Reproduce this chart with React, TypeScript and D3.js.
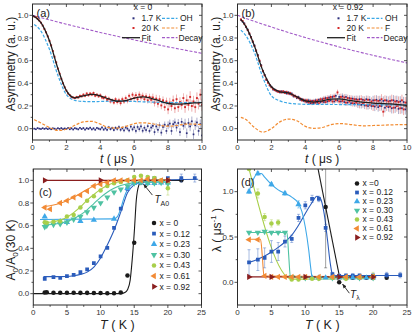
import { useEffect, useRef } from "react";
import * as d3 from "d3";

const FONT = "'Liberation Sans', Arial, Helvetica, sans-serif";

// ---------- panels (a) and (b): asymmetry vs time ----------
const tStep = 0.1;

// (a) x = 0, data from t = 0.1 us
const asym20A = [
  0.99, 0.985, 0.97, 0.955, 0.935, 0.91, 0.88, 0.85, 0.815, 0.775,
  0.735, 0.685, 0.635, 0.585, 0.53, 0.485, 0.44, 0.4, 0.365, 0.335,
  0.31, 0.295, 0.28, 0.275, 0.27, 0.28, 0.275, 0.29, 0.285, 0.3,
  0.29, 0.31, 0.295, 0.31, 0.3, 0.315, 0.29, 0.3, 0.285, 0.295,
  0.275, 0.27, 0.28, 0.255, 0.265, 0.24, 0.25, 0.23, 0.26, 0.235,
  0.25, 0.225, 0.26, 0.24, 0.27, 0.245, 0.29, 0.26, 0.3, 0.27,
  0.295, 0.26, 0.3, 0.275, 0.29, 0.26, 0.285, 0.25, 0.28, 0.255,
  0.275, 0.23, 0.265, 0.22, 0.26, 0.205, 0.25, 0.19, 0.24, 0.17,
  0.23, 0.2, 0.25, 0.18, 0.26, 0.19, 0.235, 0.21, 0.27, 0.19,
  0.25, 0.21, 0.28, 0.2, 0.24, 0.19, 0.27, 0.22, 0.3, 0.21,
];
const asym17A = [
  0.0, -0.005, 0.005, 0.0, -0.003, 0.004, -0.002, 0.003, -0.004, 0.002,
  -0.005, 0.003, 0.0, -0.006, 0.004, -0.002, 0.005, -0.004, 0.002, -0.003,
  0.006, -0.005, 0.003, -0.007, 0.004, 0.0, -0.006, 0.007, -0.003, 0.005,
  -0.008, 0.004, -0.002, 0.008, -0.006, 0.003, -0.009, 0.006, 0.0, -0.005,
  0.01, -0.008, 0.004, -0.01, 0.012, -0.004, 0.006, -0.012, 0.008, -0.002,
  0.014, -0.01, 0.005, -0.015, 0.01, 0.0, -0.016, 0.018, -0.006, 0.012,
  -0.02, 0.015, -0.004, 0.02, -0.018, 0.008, -0.012, 0.022, -0.02, 0.01,
  0.025, -0.03, 0.02, -0.01, 0.03, -0.035, 0.015, 0.035, -0.02, 0.03,
  0.045, -0.02, 0.04, 0.055, 0.01, 0.05, -0.03, 0.06, 0.025, 0.045,
  -0.04, 0.05, 0.02, 0.065, -0.05, 0.03, 0.055, -0.02, 0.04, -0.06,
];
// error half-heights per 1 us bin
const err20A = [0.004, 0.006, 0.01, 0.014, 0.018, 0.022, 0.028, 0.034, 0.042, 0.05, 0.055];
const err17A = [0.004, 0.005, 0.008, 0.01, 0.013, 0.017, 0.022, 0.028, 0.035, 0.042, 0.05];
const fitA = [
  [0, 1.0], [0.5, 0.935], [1, 0.775], [1.5, 0.53], [2, 0.335], [2.5, 0.272], [3, 0.29],
  [3.5, 0.303], [4, 0.29], [4.5, 0.262], [5, 0.242], [5.5, 0.248], [6, 0.27], [6.5, 0.28],
  [7, 0.268], [7.5, 0.245], [8, 0.222], [8.5, 0.216], [9, 0.22], [9.5, 0.227], [10, 0.23],
];
const ohA = [
  [0.1, 0.92], [0.5, 0.86], [1, 0.7], [1.5, 0.47], [2, 0.3], [2.5, 0.25], [3, 0.24],
  [3.5, 0.238], [4, 0.24], [4.5, 0.242], [5, 0.243], [5.5, 0.242], [6, 0.24], [6.5, 0.237],
  [7, 0.235], [7.5, 0.232], [8, 0.23], [8.5, 0.23], [9, 0.23], [9.5, 0.231], [10, 0.232],
];
const fA = [
  [0.1, 0.08], [0.5, 0.05], [1, 0.01], [1.5, -0.015], [2, -0.005], [2.5, 0.03], [3, 0.06],
  [3.5, 0.065], [4, 0.04], [4.5, 0.01], [5, 0.005], [5.5, 0.02], [6, 0.045], [6.5, 0.052],
  [7, 0.045], [7.5, 0.03], [8, 0.022], [8.5, 0.028], [9, 0.04], [9.5, 0.04], [10, 0.035],
];
const decayA = [
  [0, 1.0], [1, 0.96], [2, 0.922], [3, 0.885], [4, 0.849], [5, 0.815], [6, 0.783],
  [7, 0.752], [8, 0.722], [9, 0.693], [10, 0.665],
];

// (b) x = 0.92, data from t = 0.2 us
const asym20B = [
  0.965, 0.95, 0.925, 0.9, 0.87, 0.84, 0.805, 0.77, 0.73,
  0.69, 0.645, 0.6, 0.555, 0.51, 0.47, 0.435, 0.405, 0.385, 0.365,
  0.35, 0.34, 0.335, 0.325, 0.33, 0.32, 0.33, 0.315, 0.325, 0.31,
  0.315, 0.3, 0.295, 0.285, 0.28, 0.27, 0.265, 0.25, 0.255, 0.24,
  0.25, 0.23, 0.245, 0.225, 0.245, 0.23, 0.25, 0.225, 0.26, 0.24,
  0.265, 0.235, 0.27, 0.245, 0.28, 0.24, 0.285, 0.25, 0.32, 0.24,
  0.28, 0.245, 0.275, 0.23, 0.27, 0.24, 0.265, 0.225, 0.26, 0.23,
  0.255, 0.215, 0.26, 0.22, 0.25, 0.205, 0.255, 0.21, 0.24, 0.2,
  0.25, 0.21, 0.245, 0.2, 0.26, 0.15, 0.25, 0.2, 0.24, 0.195,
  0.25, 0.185, 0.24, 0.2, 0.235, 0.18, 0.25, 0.17, 0.23, 0.2,
];
const asym17B = [
  0.96, 0.945, 0.93, 0.895, 0.875, 0.835, 0.81, 0.765, 0.735,
  0.685, 0.65, 0.595, 0.56, 0.505, 0.475, 0.43, 0.41, 0.38, 0.37,
  0.345, 0.345, 0.33, 0.33, 0.32, 0.33, 0.32, 0.325, 0.31, 0.32,
  0.305, 0.31, 0.285, 0.29, 0.27, 0.28, 0.255, 0.26, 0.245, 0.25,
  0.235, 0.25, 0.225, 0.245, 0.225, 0.25, 0.23, 0.255, 0.235, 0.26,
  0.235, 0.27, 0.24, 0.275, 0.25, 0.28, 0.24, 0.29, 0.25, 0.28,
  0.24, 0.285, 0.235, 0.28, 0.23, 0.27, 0.225, 0.265, 0.22, 0.26,
  0.215, 0.26, 0.21, 0.255, 0.205, 0.26, 0.2, 0.255, 0.2, 0.25,
  0.195, 0.255, 0.19, 0.25, 0.2, 0.245, 0.185, 0.25, 0.19, 0.245,
  0.18, 0.25, 0.185, 0.245, 0.175, 0.24, 0.18, 0.235, 0.17, 0.23,
];
const err20B = [0.004, 0.006, 0.01, 0.014, 0.018, 0.024, 0.03, 0.036, 0.044, 0.05, 0.055];
const err17B = [0.004, 0.006, 0.009, 0.012, 0.016, 0.02, 0.026, 0.032, 0.04, 0.046, 0.05];
const fitB = [
  [0.2, 0.965], [0.5, 0.9], [1, 0.73], [1.5, 0.51], [2, 0.37], [2.5, 0.325], [3, 0.315],
  [3.5, 0.28], [4, 0.245], [4.5, 0.235], [5, 0.245], [5.5, 0.26], [6, 0.262], [6.5, 0.252],
  [7, 0.24], [7.5, 0.232], [8, 0.226], [8.5, 0.222], [9, 0.218], [9.5, 0.212], [10, 0.205],
];
const ohB = [
  [0.2, 0.87], [0.5, 0.82], [1, 0.67], [1.5, 0.45], [2, 0.29], [2.5, 0.245], [3, 0.225],
  [3.5, 0.218], [4, 0.215], [5, 0.214], [6, 0.213], [7, 0.212], [8, 0.211], [9, 0.21], [10, 0.21],
];
const fB = [
  [0.2, 0.1], [0.5, 0.08], [1, 0.01], [1.5, -0.03], [2, 0.0], [2.5, 0.06], [3, 0.085],
  [3.5, 0.07], [4, 0.02], [4.5, 0.003], [5, 0.01], [5.5, 0.035], [6, 0.045], [6.5, 0.04],
  [7, 0.03], [7.5, 0.025], [8, 0.028], [8.5, 0.03], [9, 0.033], [9.5, 0.035], [10, 0.035],
];
const decayB = [
  [0, 1.0], [1, 0.947], [2, 0.897], [3, 0.849], [4, 0.804], [5, 0.762], [6, 0.721],
  [7, 0.683], [8, 0.647], [9, 0.613], [10, 0.58],
];

const timeTicks = [0, 2, 4, 6, 8, 10];
const asymTicks = [0.0, 0.2, 0.4, 0.6, 0.8, 1.0];

// ---------- panels (c) and (d): vs temperature ----------
const compLabelsC = ["x = 0", "x = 0.12", "x = 0.23", "x = 0.30", "x = 0.43", "x = 0.61", "x = 0.92"];
const compLabelsD = ["x =0", "x = 0.12", "x = 0.23", "x = 0.30", "x = 0.43", "x = 0.61", "x = 0.92"];
const compColors = ["#1a1a1a", "#2b5cbb", "#3ea8e8", "#4fc2a2", "#a8cf4a", "#f28a35", "#8a1e1e"];
const compShapes = ["circle", "square", "up", "down", "circle", "left", "right"];

// A0/A0(30 K): [T, value, err?]
const ratioX0 = [[1.7, 0.01], [2, 0.012], [3, 0.008], [4, 0.008], [5, 0.008], [6, 0.008], [7, 0.007], [8, 0.007], [9, 0.006], [10, 0.006], [11, 0.004], [12, 0.004], [13, 0.01], [14, 0.16], [15, 0.45], [16, 0.98], [17, 1.0], [18, 1.0], [20, 1.0], [22, 1.0]];
const ratioX12 = [[1.7, 0.13], [3, 0.145], [4, 0.14], [5, 0.155], [6, 0.165], [7, 0.19], [8, 0.215], [9, 0.27], [10, 0.33], [11, 0.405], [12, 0.58], [13, 0.75], [14, 0.925], [15, 0.975], [16, 0.99], [17, 1.0], [18, 1.02], [20, 1.02], [22, 1.02, 0.035], [24, 1.02, 0.035]];
const ratioX23 = [[1.7, 0.68], [4, 0.635], [5, 0.63], [7, 0.64], [9, 0.65], [12, 0.66], [14, 0.93], [15, 0.975], [16, 0.98], [17, 0.975], [18, 0.975], [19, 0.98], [20, 0.98]];
const ratioX30 = [[1.7, 0.59], [2, 0.6], [3, 0.61], [4, 0.615], [5, 0.63], [6, 0.655], [7, 0.68], [8, 0.72], [9, 0.76], [10, 0.8], [11, 0.85], [12, 0.895], [13, 0.92], [14, 0.95], [15, 0.975], [16, 0.985], [17, 0.975], [18, 0.975], [19, 0.98], [20, 0.97]];
const ratioX43 = [[1.7, 0.63], [2, 0.625], [3, 0.635], [4, 0.64], [5, 0.68], [6, 0.695], [7, 0.76], [8, 0.82], [9, 0.86], [10, 0.91], [11, 0.95], [12, 0.975], [13, 0.985], [14, 1.0], [15, 1.03], [16, 1.04], [17, 1.03], [18, 1.02], [19, 1.0], [20, 0.93, 0.06]];
const ratioX61 = [[1.7, 0.76], [2.5, 0.745], [4, 0.8], [5, 0.82], [6, 0.85], [7, 0.87], [8, 0.905], [9, 0.95], [10, 0.965], [11, 0.98], [12, 1.0], [13, 1.0], [14, 1.0], [15, 1.0], [16, 1.0], [17, 1.01], [18, 1.0], [19, 1.0], [20, 1.0]];
const ratioX92 = [[1.7, 1.0], [10, 1.0], [20, 1.0]];

const ratioFitX0 = [[0, 0], [13, 0], [13.6, 0.01], [14, 0.035], [14.4, 0.12], [14.7, 0.3], [15.05, 0.58], [15.3, 0.82], [15.7, 0.96], [16.1, 0.995], [17, 1.0], [22, 1.0]];
const ratioFitX12 = [[1.5, 0.15], [5, 0.152], [6, 0.158], [7, 0.17], [8, 0.19], [9, 0.235], [10, 0.315], [11, 0.43], [12, 0.56], [13, 0.72], [14, 0.89], [15, 0.96], [16, 0.985], [17, 0.997], [18, 1.0], [24.5, 1.01]];
const ratioFitX23 = [[1, 0.655], [12, 0.66], [12.5, 0.68], [13, 0.75], [13.5, 0.85], [14, 0.92], [14.5, 0.955], [15, 0.97], [16, 0.98], [20, 0.985]];
const ratioFitX30 = [[1.5, 0.605], [3, 0.612], [4, 0.622], [5, 0.638], [6, 0.662], [7, 0.695], [8, 0.74], [9, 0.795], [10, 0.85], [11, 0.895], [12, 0.93], [13, 0.955], [14, 0.97], [15, 0.98], [17, 0.985], [20, 0.985]];
const ratioFitX43 = [[1.5, 0.625], [3, 0.635], [4, 0.65], [5, 0.675], [6, 0.715], [7, 0.765], [8, 0.825], [9, 0.875], [10, 0.92], [11, 0.955], [12, 0.978], [13, 0.99], [14, 0.997], [20, 1.0]];
const ratioFitX61 = [[1.5, 0.77], [2, 0.772], [3, 0.782], [4, 0.798], [5, 0.82], [6, 0.85], [7, 0.885], [8, 0.92], [9, 0.95], [10, 0.975], [11, 0.99], [12, 0.997], [20, 1.0]];
const ratioFitX92 = [[1.5, 1.0], [20, 1.0]];

// lambda (us^-1): [T, value, err?]
const lamX0 = [[13, 0.83, 0.67], [15, 0.0], [16, 0.05], [17, 0.05], [18, 0.05], [19, 0.05], [20, 0.05], [22, 0.05]];
const lamX12 = [[1.7, 0.22, 0.14], [3, 0.25, 0.12], [4, 0.27, 0.11], [5, 0.34, 0.12], [6, 0.34, 0.1], [7, 0.45, 0.06], [8, 0.48, 0.04], [9, 0.71, 0.04], [10, 0.85, 0.04], [11, 0.92, 0.04], [12, 0.92, 0.03], [13, 0.6, 0.04], [14, 0.09, 0.02], [15, 0.07, 0.02], [16, 0.075, 0.02], [17, 0.075, 0.02], [18, 0.075, 0.02], [20, 0.075, 0.02], [22, 0.08, 0.03], [24, 0.08, 0.03]];
const lamX23 = [[1.7, 1.0, 0.02], [3, 1.2, 0.02], [5, 1.08, 0.02], [7, 0.98, 0.02], [9, 0.86, 0.04], [11, 0.05], [12, 0.05], [13, 0.05], [14, 0.05], [15, 0.05], [16, 0.05], [17, 0.05], [18, 0.05], [19, 0.05], [20, 0.05]];
const lamX30 = [[1.7, 0.55], [3, 0.55], [4, 0.56], [5, 0.55], [6, 0.55], [7, 0.55], [8, 0.06], [9, 0.05], [10, 0.05], [12, 0.05], [14, 0.05], [16, 0.05], [18, 0.05], [20, 0.05]];
const lamX43 = [[1.7, 1.25], [3, 0.98, 0.05], [4, 0.72, 0.04], [5, 0.65, 0.04], [6, 0.66, 0.03], [8, 0.03], [9, 0.03], [10, 0.05], [11, 0.04], [12, 0.04], [14, 0.05], [16, 0.04], [18, 0.05], [20, 0.07, 0.04]];
const lamX61 = [[1.7, 0.47], [3, 0.47], [4, 0.07], [5, 0.06], [6, 0.06], [7, 0.06], [8, 0.06], [9, 0.06], [10, 0.06], [12, 0.06], [14, 0.06], [16, 0.06], [18, 0.06], [20, 0.06]];
const lamX92 = [[1.7, 0.06], [5, 0.06], [10, 0.06], [15, 0.06], [20, 0.06]];

const lamFitX0 = [[11.7, 1.32], [15.1, 0.04]];
const lamFitX12 = [[1.7, 0.22], [3, 0.255], [4, 0.29], [5, 0.335], [6, 0.385], [7, 0.445], [8, 0.52], [9, 0.63], [10, 0.76], [11, 0.88], [11.7, 0.95], [12.2, 0.93], [12.8, 0.75], [13.3, 0.45], [13.7, 0.2], [14, 0.09], [14.5, 0.075], [24, 0.075]];
const lamFitX23 = [[1.7, 1.0], [2.3, 1.13], [3, 1.2], [3.5, 1.2], [4, 1.16], [5, 1.08], [6, 1.02], [7, 0.98], [8, 0.94], [9, 0.87], [9.5, 0.78], [10, 0.61], [10.5, 0.36], [10.8, 0.16], [11, 0.06], [20, 0.05]];
const lamFitX30 = [[1.5, 0.55], [7.3, 0.55], [7.55, 0.3], [7.8, 0.06], [20, 0.05]];
const lamFitX43 = [[1.6, 1.28], [8, 0.035], [20, 0.045]];
const lamFitX61 = [[1.5, 0.475], [3.4, 0.475], [3.65, 0.3], [3.9, 0.07], [20, 0.06]];
const lamFitX92 = [[1.5, 0.06], [20, 0.06]];

const tempTicks = [0, 5, 10, 15, 20, 25];
const ratioTicks = [0.0, 0.2, 0.4, 0.6, 0.8, 1.0];
const lamTicks = [0.0, 0.5, 1.0];

const C = {
  navy: "#2d2f7c",
  red: "#d42a2a",
  oh: "#3ba8e6",
  f: "#f28c32",
  decay: "#a25bc8",
  fit: "#1f1f1f",
  axis: "#2a2a2a",
};

type Box = { x0: number; x1: number; y0: number; y1: number };
const PA: Box = { x0: 32.5, x1: 202, y0: 4, y1: 140 };
const PB: Box = { x0: 237.5, x1: 407, y0: 4, y1: 140 };
const PC: Box = { x0: 33.3, x1: 201.5, y0: 169, y1: 305 };
const PD: Box = { x0: 237.5, x1: 407, y0: 169, y1: 305 };

function mids(a: number[]) {
  return d3.pairs(a).map(([p, q]) => (p + q) / 2);
}

function frame(g: any, box: Box, x: any, y: any, xMajor: number[], yMajor: number[], yFmt: (v: number) => string) {
  const tick = (a: number, b: number, c: number, d: number) =>
    g.append("line").attr("x1", a).attr("y1", b).attr("x2", c).attr("y2", d)
      .attr("stroke", C.axis).attr("stroke-width", 0.8);
  xMajor.forEach((v) => { const p = x(v); tick(p, box.y1, p, box.y1 + 3); tick(p, box.y0, p, box.y0 + 3); });
  mids(xMajor).forEach((v) => { const p = x(v); tick(p, box.y1, p, box.y1 + 1.8); tick(p, box.y0, p, box.y0 + 1.8); });
  yMajor.forEach((v) => { const p = y(v); tick(box.x0 - 3, p, box.x0, p); tick(box.x1 - 3, p, box.x1, p); });
  mids(yMajor).forEach((v) => { const p = y(v); tick(box.x0 - 1.8, p, box.x0, p); tick(box.x1 - 1.8, p, box.x1, p); });

  g.append("rect").attr("x", box.x0).attr("y", box.y0)
    .attr("width", box.x1 - box.x0).attr("height", box.y1 - box.y0)
    .attr("fill", "none").attr("stroke", C.axis).attr("stroke-width", 1);

  xMajor.forEach((v) => {
    g.append("text").attr("x", x(v)).attr("y", box.y1 + 9.5).attr("text-anchor", "middle")
      .attr("font-size", 8).attr("fill", "#333").text(String(v));
  });
  yMajor.forEach((v) => {
    g.append("text").attr("x", box.x0 - 4).attr("y", y(v)).attr("dy", "0.35em").attr("text-anchor", "end")
      .attr("font-size", 8).attr("fill", "#333").text(yFmt(v));
  });
}

function clip(svg: any, id: string, box: Box) {
  svg.select("defs").append("clipPath").attr("id", id).append("rect")
    .attr("x", box.x0).attr("y", box.y0).attr("width", box.x1 - box.x0).attr("height", box.y1 - box.y0);
}

function symbolPath(shape: string, size: number) {
  const type = shape === "circle" ? d3.symbolCircle : shape === "square" ? d3.symbolSquare : d3.symbolTriangle;
  return d3.symbol().type(type).size(size)();
}
function rot(shape: string) {
  return shape === "down" ? 180 : shape === "left" ? -90 : shape === "right" ? 90 : 0;
}

function drawAsym(svg: any, box: Box, id: string, p: any) {
  const x = d3.scaleLinear().domain([0, 10]).range([box.x0, box.x1]);
  const y = d3.scaleLinear().domain([-0.1, 1.1]).range([box.y1, box.y0]);
  clip(svg, id, box);
  const g = svg.append("g");
  const plot = g.append("g").attr("clip-path", `url(#${id})`);

  const points = (vals: number[], t0: number, errs: number[], color: string, s: number) => {
    const gg = plot.append("g");
    vals.forEach((v, i) => {
      const t = t0 + i * tStep;
      const e = errs[Math.min(errs.length - 1, Math.floor(t))];
      gg.append("line").attr("x1", x(t)).attr("x2", x(t)).attr("y1", y(v - e)).attr("y2", y(v + e))
        .attr("stroke", color).attr("stroke-width", 0.7).attr("opacity", 0.55);
      gg.append("rect").attr("x", x(t) - s / 2).attr("y", y(v) - s / 2).attr("width", s).attr("height", s)
        .attr("fill", color);
    });
  };
  points(p.d17, p.t0, p.e17, C.navy, 1.7);
  points(p.d20, p.t0, p.e20, C.red, 1.9);

  const line = d3.line<number[]>().x((d) => x(d[0])).y((d) => y(d[1])).curve(d3.curveMonotoneX);
  const curve = (data: number[][], color: string, dash: string | null, w: number) => {
    const path = plot.append("path").datum(data).attr("d", line).attr("fill", "none")
      .attr("stroke", color).attr("stroke-width", w);
    if (dash) path.attr("stroke-dasharray", dash);
  };
  curve(p.oh, C.oh, "3,1.6", 1.2);
  curve(p.f, C.f, "3,1.6", 1.2);
  curve(p.decay, C.decay, "3,1.6", 1.1);
  curve(p.fit, C.fit, null, 1.3);

  frame(g, box, x, y, timeTicks, asymTicks, (v) => v.toFixed(1));

  // panel tag
  g.append("text").attr("x", box.x0 + 4).attr("y", box.y0 + 13).attr("font-size", 11).attr("fill", "#222").text(p.tag);

  // legend
  const lx = box.x0;
  g.append("text").attr("x", lx + 110.5).attr("y", box.y0 + 6).attr("font-size", 8.5).attr("text-anchor", "middle")
    .attr("fill", "#222").text(p.comp);
  const rows = [box.y0 + 14.3, box.y0 + 24, box.y0 + 33.7];
  const lt = (tx: number, ty: number, s: string) =>
    g.append("text").attr("x", tx).attr("y", ty).attr("dy", "0.35em").attr("font-size", 8.5).attr("fill", "#222").text(s);
  g.append("rect").attr("x", lx + 100).attr("y", rows[0] - 1).attr("width", 2).attr("height", 2).attr("fill", C.navy);
  lt(lx + 109, rows[0], "1.7 K");
  g.append("rect").attr("x", lx + 100).attr("y", rows[1] - 1).attr("width", 2).attr("height", 2).attr("fill", C.red);
  lt(lx + 109, rows[1], "20 K");
  g.append("line").attr("x1", lx + 89.5).attr("x2", lx + 107.5).attr("y1", rows[2]).attr("y2", rows[2])
    .attr("stroke", C.fit).attr("stroke-width", 1.3);
  lt(lx + 109, rows[2], "Fit");
  const dl = (ty: number, color: string) =>
    g.append("line").attr("x1", lx + 129.5).attr("x2", lx + 145).attr("y1", ty).attr("y2", ty)
      .attr("stroke", color).attr("stroke-width", 1.2).attr("stroke-dasharray", "3,1.6");
  dl(rows[0], C.oh); lt(lx + 147.5, rows[0], "OH");
  dl(rows[1], C.f); lt(lx + 147.5, rows[1], "F");
  dl(rows[2], C.decay); lt(lx + 146, rows[2], "Decay");

  // axis labels
  const xl = g.append("text").attr("x", (box.x0 + box.x1) / 2).attr("y", box.y1 + 22.5)
    .attr("text-anchor", "middle").attr("font-size", 12).attr("fill", "#222");
  xl.append("tspan").attr("font-style", "italic").text("t");
  xl.append("tspan").text(" ( μs )");
  g.append("text").attr("transform", `translate(${box.x0 - 18},${64}) rotate(-90)`)
    .attr("text-anchor", "middle").attr("font-size", 12).attr("fill", "#222").text("Asymmetry (a. u.)");
}

function drawTemp(svg: any, box: Box, id: string, p: any) {
  const x = d3.scaleLinear().domain([0, 25]).range([box.x0, box.x1]);
  const y = d3.scaleLinear().domain(p.yDomain).range([box.y1, box.y0]);
  clip(svg, id, box);
  const g = svg.append("g");
  const plot = g.append("g").attr("clip-path", `url(#${id})`);
  const line = d3.line<number[]>().x((d) => x(d[0])).y((d) => y(d[1])).curve(d3.curveMonotoneX);

  p.fits.forEach((f: number[][], i: number) => {
    plot.append("path").datum(f).attr("d", line).attr("fill", "none")
      .attr("stroke", compColors[i]).attr("stroke-width", 1.1);
  });
  p.points.forEach((pts: number[][], i: number) => {
    const col = compColors[i];
    pts.forEach((d) => {
      if (d[2]) {
        const px = x(d[0]);
        [[px, y(d[1] - d[2]), px, y(d[1] + d[2])],
         [px - 1.5, y(d[1] - d[2]), px + 1.5, y(d[1] - d[2])],
         [px - 1.5, y(d[1] + d[2]), px + 1.5, y(d[1] + d[2])]].forEach((l) => {
          plot.append("line").attr("x1", l[0]).attr("y1", l[1]).attr("x2", l[2]).attr("y2", l[3])
            .attr("stroke", col).attr("stroke-width", 0.8).attr("opacity", 0.5);
        });
      }
    });
    pts.forEach((d) => {
      const sh = compShapes[i];
      plot.append("path").attr("d", symbolPath(sh, sh === "square" ? 14 : sh === "circle" ? 16 : 17))
        .attr("transform", `translate(${x(d[0])},${y(d[1])}) rotate(${rot(sh)})`).attr("fill", col);
    });
  });

  frame(g, box, x, y, tempTicks, p.yTicks, p.yFmt);

  g.append("text").attr("x", p.tagX).attr("y", p.tagY).attr("font-size", 11).attr("fill", "#222").text(p.tag);

  // legend
  p.labels.forEach((s: string, i: number) => {
    const ty = p.legY + i * p.legStep;
    const sh = compShapes[i];
    g.append("path").attr("d", symbolPath(sh, sh === "square" ? 14 : sh === "circle" ? 16 : 17))
      .attr("transform", `translate(${p.legX},${ty}) rotate(${rot(sh)})`).attr("fill", compColors[i]);
    g.append("text").attr("x", p.legX + 5.5).attr("y", ty).attr("dy", "0.35em").attr("font-size", 8.5)
      .attr("fill", "#222").text(s);
  });

  const xl = g.append("text").attr("x", (box.x0 + box.x1) / 2).attr("y", box.y1 + 24)
    .attr("text-anchor", "middle").attr("font-size", 12.5).attr("fill", "#222");
  xl.append("tspan").attr("font-style", "italic").text("T");
  xl.append("tspan").text(" ( K )");
  return { g, x, y };
}

export default function App() {
  const ref = useRef<SVGSVGElement>(null);

  useEffect(() => {
    const svg = d3.select(ref.current);
    svg.selectAll("*").remove();
    svg.append("defs");
    svg.attr("font-family", FONT);

    drawAsym(svg, PA, "clipA", {
      d20: asym20A, d17: asym17A, t0: 0.1, e20: err20A, e17: err17A,
      fit: fitA, oh: ohA, f: fA, decay: decayA, tag: "(a)", comp: "x = 0",
    });
    drawAsym(svg, PB, "clipB", {
      d20: asym20B, d17: asym17B, t0: 0.2, e20: err20B, e17: err17B,
      fit: fitB, oh: ohB, f: fB, decay: decayB, tag: "(b)", comp: "x = 0.92",
    });

    const c = drawTemp(svg, PC, "clipC", {
      yDomain: [-0.1, 1.1], yTicks: ratioTicks, yFmt: (v: number) => v.toFixed(1),
      points: [ratioX0, ratioX12, ratioX23, ratioX30, ratioX43, ratioX61, ratioX92],
      fits: [ratioFitX0, ratioFitX12, ratioFitX23, ratioFitX30, ratioFitX43, ratioFitX61, ratioFitX92],
      labels: compLabelsC, legX: 154, legY: 223, legStep: 10.6,
      tag: "(c)", tagX: 39, tagY: 196,
    });
    const d = drawTemp(svg, PD, "clipD", {
      yDomain: [-0.25, 1.25], yTicks: lamTicks, yFmt: (v: number) => v.toFixed(1),
      points: [lamX0, lamX12, lamX23, lamX30, lamX43, lamX61, lamX92],
      fits: [lamFitX0, lamFitX12, lamFitX23, lamFitX30, lamFitX43, lamFitX61, lamFitX92],
      labels: compLabelsD, legX: 357, legY: 183.5, legStep: 9,
      tag: "(d)", tagX: 241, tagY: 186,
    });

    // arrow heads
    svg.select("defs").append("marker").attr("id", "arr").attr("viewBox", "0 0 10 10")
      .attr("refX", 9).attr("refY", 5).attr("markerWidth", 5).attr("markerHeight", 5).attr("orient", "auto")
      .append("path").attr("d", "M0,1 L10,5 L0,9 Z").attr("fill", "#222");

    // y labels
    const yc = c.g.append("text").attr("transform", `translate(15,250) rotate(-90)`)
      .attr("text-anchor", "middle").attr("font-size", 12).attr("fill", "#222");
    yc.append("tspan").text("A");
    yc.append("tspan").attr("font-size", 8).attr("dy", 3).text("0");
    yc.append("tspan").attr("dy", -3).text("/A");
    yc.append("tspan").attr("font-size", 8).attr("dy", 3).text("0");
    yc.append("tspan").attr("dy", -3).text("(30 K)");

    const yd = d.g.append("text").attr("transform", `translate(221,230) rotate(-90)`)
      .attr("text-anchor", "middle").attr("font-size", 12).attr("fill", "#222");
    yd.append("tspan").text("λ ( μs");
    yd.append("tspan").attr("font-size", 8).attr("dy", -5).text("-1");
    yd.append("tspan").attr("dy", 5).text(" )");

    // T_A0 annotation in (c)
    c.g.append("line").attr("x1", c.x(17.7)).attr("y1", c.y(0.87)).attr("x2", c.x(16.4)).attr("y2", c.y(0.965))
      .attr("stroke", "#222").attr("stroke-width", 0.9).attr("marker-end", "url(#arr)");
    const ta = c.g.append("text").attr("x", c.x(18)).attr("y", c.y(0.8)).attr("font-size", 10).attr("fill", "#222");
    ta.append("tspan").attr("font-style", "italic").text("T");
    ta.append("tspan").attr("font-size", 7).attr("dy", 2.5).text("A0");

    // T_lambda annotation in (d)
    d.g.append("line").attr("x1", d.x(16.5)).attr("y1", d.y(-0.12)).attr("x2", d.x(15.5)).attr("y2", d.y(-0.02))
      .attr("stroke", "#222").attr("stroke-width", 0.9).attr("marker-end", "url(#arr)");
    const tl = d.g.append("text").attr("x", d.x(16.6)).attr("y", d.y(-0.17)).attr("font-size", 10).attr("fill", "#222");
    tl.append("tspan").attr("font-style", "italic").text("T");
    tl.append("tspan").attr("font-size", 7).attr("dy", 2.5).text("λ");
  }, []);

  return (
    <svg
      ref={ref}
      width={415}
      height={333}
      style={{ position: "absolute", left: 0, top: 0, background: "#fff" }}
    />
  );
}
